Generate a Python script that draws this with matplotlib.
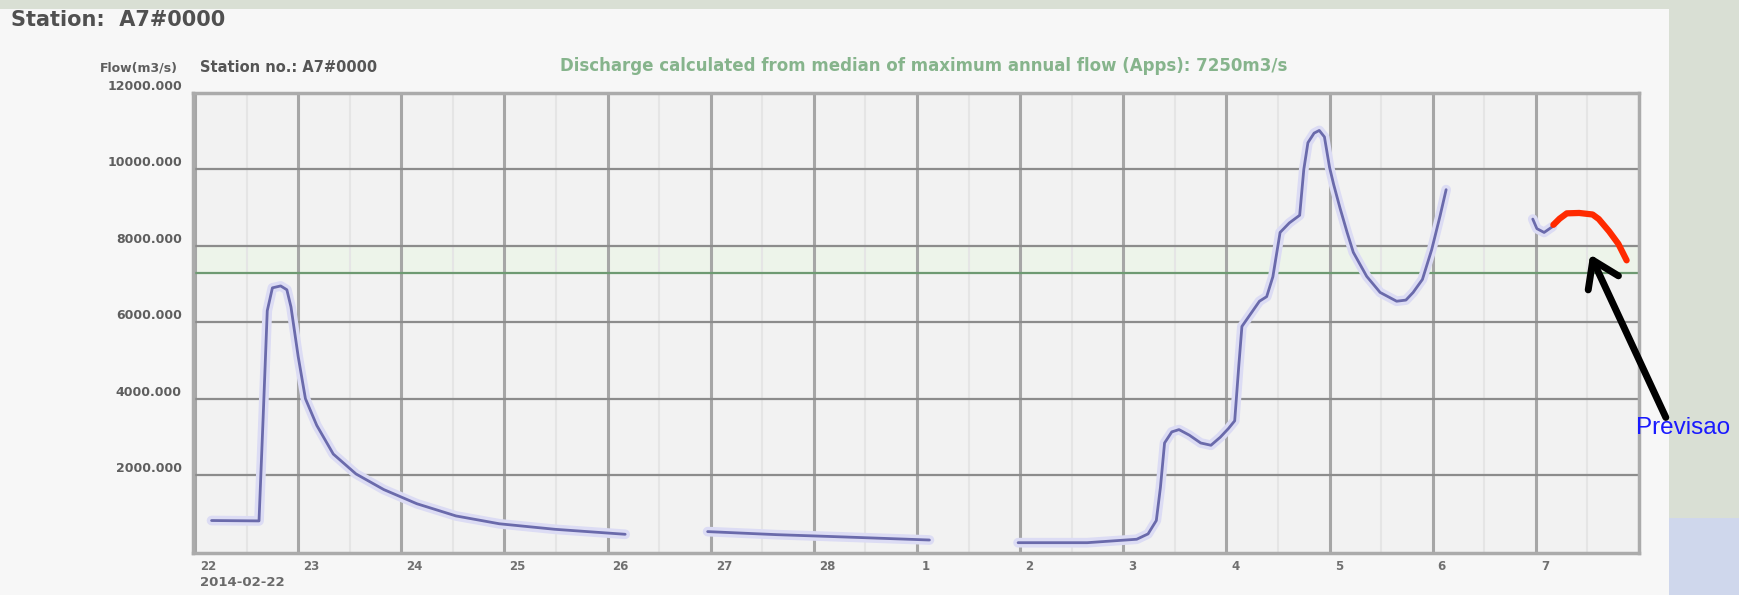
import matplotlib.pyplot as plt
from matplotlib.patches import Rectangle, FancyArrowPatch
from matplotlib.transforms import ScaledTranslation

# x axis: day index, 0 = 22 Feb ... 13 = 7 Mar
day_labels = ["22", "23", "24", "25", "26", "27", "28", "1", "2", "3", "4", "5", "6", "7"]
y_ticks = [2000, 4000, 6000, 8000, 10000, 12000]

# observed discharge, split where the record has gaps
obs1_day = [0.16, 0.62, 0.66, 0.70, 0.75, 0.83, 0.89, 0.93, 1.00, 1.07, 1.18, 1.34,
            1.56, 1.83, 2.15, 2.53, 2.95, 3.49, 4.17]
obs1_q = [810, 800, 3500, 6300, 6900, 6950, 6850, 6400, 5100, 4000, 3300, 2550,
          2030, 1620, 1250, 930, 725, 580, 450]

obs2_day = [4.97, 5.64, 6.29, 7.12]
obs2_q = [520, 440, 380, 300]

obs3_day = [7.98, 8.65, 9.13, 9.24, 9.32, 9.36, 9.40, 9.47, 9.54, 9.64, 9.75, 9.85,
            9.94, 10.02, 10.08, 10.12, 10.15, 10.24, 10.32, 10.39, 10.45, 10.52, 10.61,
            10.71, 10.75, 10.79, 10.85, 10.90, 10.95, 11.00, 11.04, 11.10, 11.17, 11.23,
            11.36, 11.49, 11.65, 11.74, 11.81, 11.90, 11.99, 12.07, 12.13]
obs3_q = [230, 230, 320, 460, 810, 1680, 2840, 3130, 3190, 3045, 2840, 2780,
          2990, 3220, 3420, 4870, 5890, 6240, 6550, 6670, 7190, 8350, 8600,
          8800, 10000, 10700, 10950, 11020, 10850, 10050, 9600, 9000, 8350, 7830,
          7200, 6780, 6550, 6580, 6780, 7120, 7900, 8770, 9470]

obs4_day = [12.97, 13.01, 13.08, 13.16]
obs4_q = [8700, 8450, 8350, 8500]

# hand-drawn forecast ("Previsao")
fc_day = [13.17, 13.23, 13.30, 13.42, 13.55, 13.61, 13.71, 13.80, 13.88]
fc_q = [8550, 8710, 8850, 8860, 8820, 8700, 8380, 8050, 7620]

threshold_q = 7300

fig = plt.figure(figsize=(17.39, 5.95), dpi=100)
fig.patch.set_facecolor('#d9dfd4')

# screenshot panel + bluish corner of the slide background
fig.add_artist(Rectangle((0, 0), 1669 / 1739, 1 - 9 / 595, transform=fig.transFigure,
                         facecolor='#f7f7f7', edgecolor='none', zorder=0))
fig.add_artist(Rectangle((1669 / 1739, 0), 1 - 1669 / 1739, 0.13, transform=fig.transFigure,
                         facecolor='#cfd7ec', edgecolor='none', zorder=0))

ax = fig.add_axes([193 / 1739, 1 - 553 / 595, (1639 - 193) / 1739, (553 - 93) / 595])
ax.set_facecolor('#f2f2f2')
ax.set_xlim(-0.02, 14)
ax.set_ylim(-40, 12000)

# grid
ax.set_xticks(range(len(day_labels)))
ax.set_xticks([k + 0.5 for k in range(14)], minor=True)
ax.set_yticks(y_ticks)
ax.grid(which='major', axis='x', color='#a6a6a6', lw=2.2, zorder=1)
ax.grid(which='minor', axis='x', color='#e5e5e5', lw=1.5, zorder=1)
ax.grid(which='major', axis='y', color='#8c8c8c', lw=1.6, zorder=1)
for sp in ax.spines.values():
    sp.set_color('#ababab')
    sp.set_linewidth(2.5)

# threshold band and line
ax.axhspan(threshold_q, 8000, color='#edf4ea', zorder=0.5)
ax.axhline(threshold_q, color='#6e9a72', lw=1.6, zorder=2)

# observed series (soft halo + core to mimic the blurry screenshot)
for d, q in [(obs1_day, obs1_q), (obs2_day, obs2_q), (obs3_day, obs3_q), (obs4_day, obs4_q)]:
    ax.plot(d, q, color='#dcdcf4', lw=7, solid_capstyle='round', zorder=3)
    ax.plot(d, q, color='#6a6aab', lw=2.0, solid_capstyle='round', zorder=4)

ax.plot(fc_day, fc_q, color='#ff2a00', lw=4.5, solid_capstyle='round',
        solid_joinstyle='round', zorder=5)

# tick labels
ax.tick_params(which='both', length=0)
ax.tick_params(axis='x', pad=5, labelsize=8.5, labelcolor='#707070')
ax.tick_params(axis='y', pad=8, labelsize=9, labelcolor='#5e5e5e')
ax.set_xticklabels(day_labels, ha='left', fontweight='bold')
ax.set_yticklabels([f"{v}.000" for v in y_ticks], fontweight='bold')
for lab in ax.get_xticklabels():
    lab.set_transform(lab.get_transform() + ScaledTranslation(0.05, 0, fig.dpi_scale_trans))
for lab in ax.get_yticklabels():
    lab.set_transform(lab.get_transform() + ScaledTranslation(0, 0.08, fig.dpi_scale_trans))

# header texts of the screenshot
fig.text(11 / 1739, 1 - 20 / 595, "Station:  A7#0000", fontsize=15, fontweight='bold',
         color='#505050', va='center', ha='left')
fig.text(178 / 1739, 1 - 68 / 595, "Flow(m3/s)", fontsize=9, fontweight='bold',
         color='#5e5e5e', va='center', ha='right')
fig.text(200 / 1739, 1 - 67 / 595, "Station no.: A7#0000", fontsize=10.5, fontweight='bold',
         color='#555555', va='center', ha='left')
fig.text(560 / 1739, 1 - 66 / 595,
         "Discharge calculated from median of maximum annual flow (Apps): 7250m3/s",
         fontsize=12, fontweight='bold', color='#86b48c', va='center', ha='left')
fig.text(200 / 1739, 1 - 582 / 595, "2014-02-22", fontsize=9.5, fontweight='bold',
         color='#6a6a6a', va='center', ha='left')

# annotation on the slide
fig.text(1636 / 1739, 1 - 428 / 595, "Previsao", fontsize=17.5, color='#1a1aff',
         family='Liberation Sans', va='center', ha='left')
fig.add_artist(FancyArrowPatch(
    (1667 / 1739, 1 - 420 / 595), (1589 / 1739, 1 - 252 / 595),
    transform=fig.transFigure, arrowstyle='->,head_length=0.6,head_width=0.4',
    mutation_scale=30, lw=5, color='black', capstyle='round', zorder=10))

fig.savefig('out.png', dpi=100, facecolor=fig.get_facecolor())
